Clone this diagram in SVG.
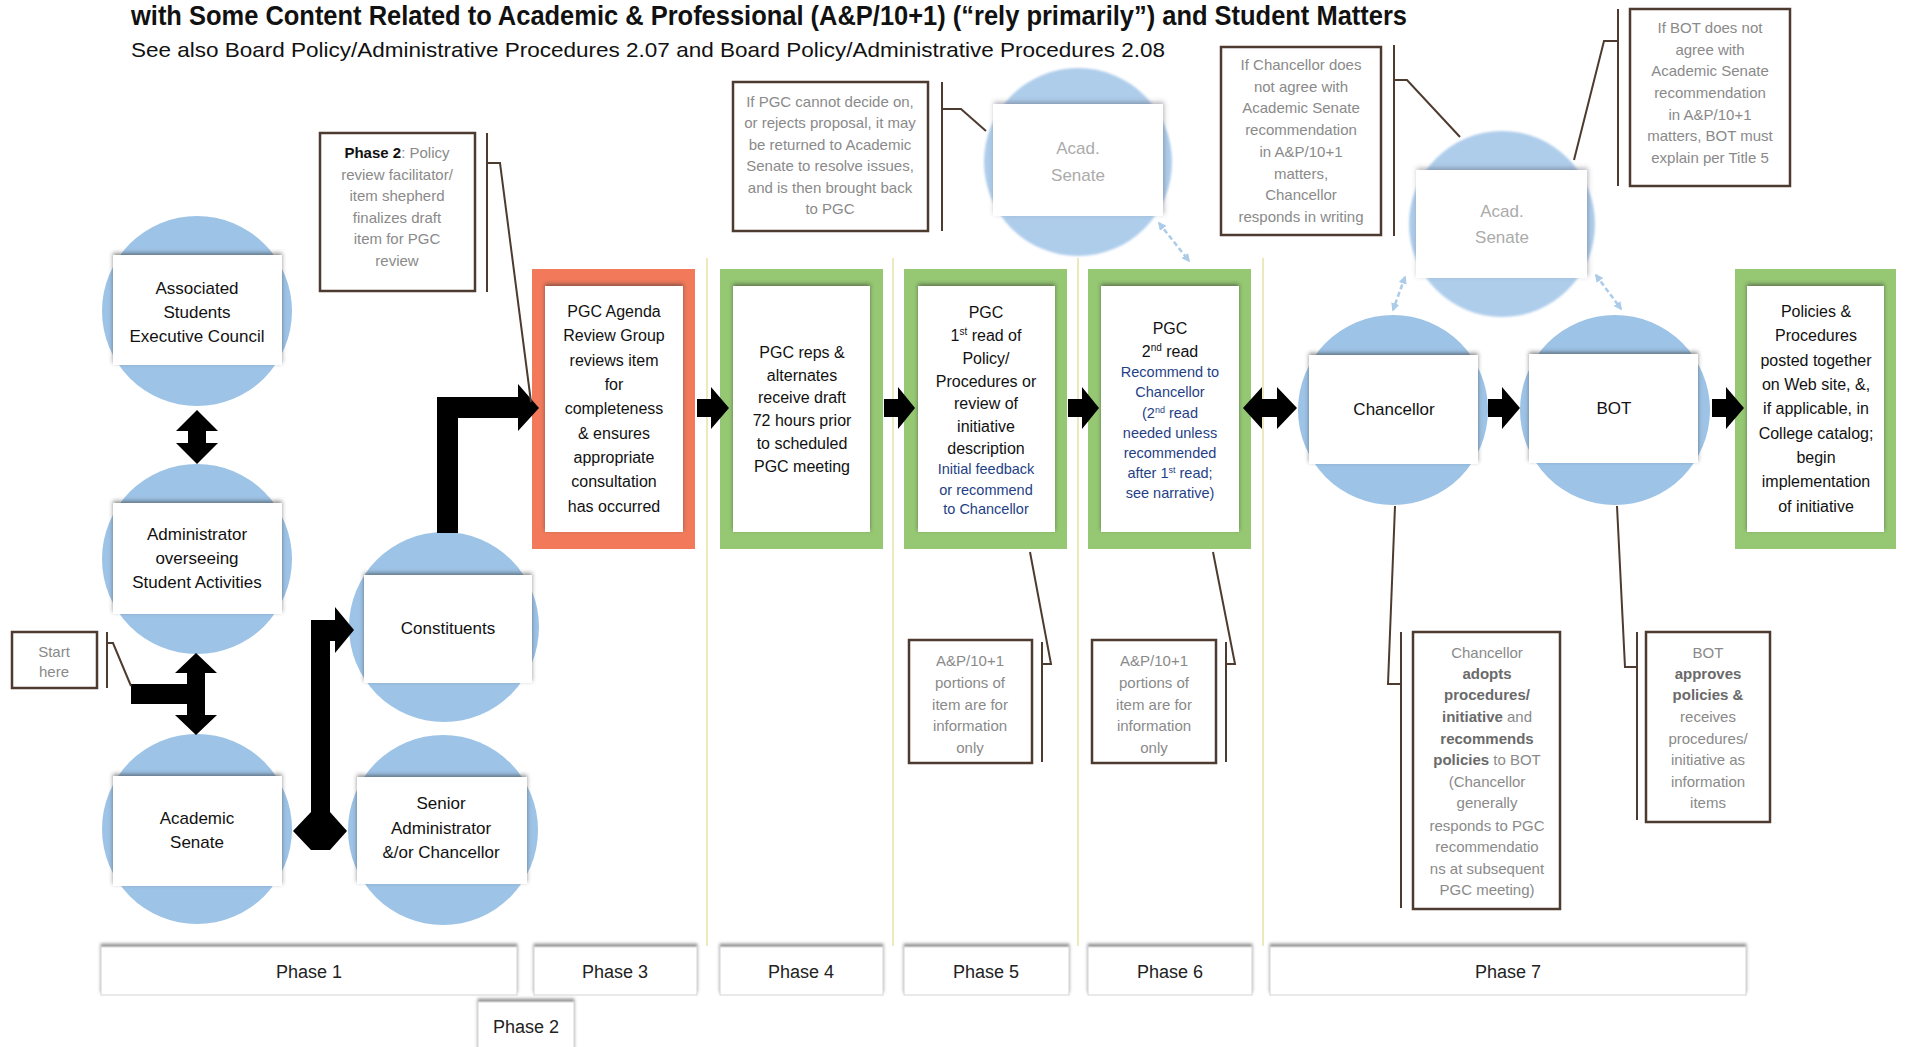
<svg xmlns="http://www.w3.org/2000/svg" width="1906" height="1047" viewBox="0 0 1906 1047">
<defs>
<style>
text{font-family:"Liberation Sans",Arial,sans-serif}
.n{font-size:17px;fill:#111;text-anchor:middle}
.b{font-size:16px;fill:#111;text-anchor:middle}
.bl{font-size:14.5px;fill:#1F3F86;text-anchor:middle}
.c{font-size:15px;fill:#8A8A8A;text-anchor:middle}
.cb{font-weight:bold;fill:#6A6A6A}
.ph{font-size:18px;fill:#222;text-anchor:middle}
.fa{font-size:17px;fill:#ABABAB;text-anchor:middle}
.circ{fill:#9DC3E6}
.fcirc{fill:#AECDEB;filter:url(#fade)}
.box{fill:#fff;filter:url(#sh)}
.fbox{fill:#fff;filter:url(#fsh)}
.cal{fill:#fff;stroke:#4E3B30;stroke-width:2.5}
.brk{fill:none;stroke:#4E3B30;stroke-width:2}
.arr{fill:#000}
.sep{stroke:#E6E2A6;stroke-width:1.5}
.grn{fill:#96C873}
.red{fill:#F27A5B}
.pbox{fill:#fff;stroke:#D4D4D4;stroke-width:1;filter:url(#psh)}
.faint{stroke:#9DC3E6;stroke-width:2.5;stroke-dasharray:5 3;opacity:0.85;marker-start:url(#fh);marker-end:url(#fh)}
</style>
<filter id="sh" x="-20%" y="-20%" width="140%" height="140%">
<feDropShadow dx="0" dy="-2" stdDeviation="2.2" flood-color="#333" flood-opacity="0.55"/>
</filter>
<filter id="fsh" x="-20%" y="-20%" width="140%" height="140%">
<feDropShadow dx="1" dy="-2" stdDeviation="2.5" flood-color="#556" flood-opacity="0.45"/>
</filter>
<filter id="psh" x="-10%" y="-30%" width="120%" height="160%">
<feDropShadow dx="0" dy="-3" stdDeviation="1.5" flood-color="#555" flood-opacity="0.6"/>
</filter>
<filter id="fade" x="-20%" y="-20%" width="140%" height="140%">
<feGaussianBlur stdDeviation="1.2"/>
</filter>
<marker id="fh" viewBox="0 0 10 10" refX="8" refY="5" markerWidth="3.4" markerHeight="3.4" orient="auto-start-reverse">
<path d="M0,0 L10,5 L0,10 z" fill="#9DC3E6"/>
</marker>
</defs>
<rect width="1906" height="1047" fill="#fff"/>

<text x="131" y="25" font-size="27" font-weight="bold" fill="#111" textLength="1276" lengthAdjust="spacingAndGlyphs">with Some Content Related to Academic &amp; Professional (A&amp;P/10+1) (“rely primarily”) and Student Matters</text>
<text x="131" y="57" font-size="21" fill="#111" textLength="1034" lengthAdjust="spacingAndGlyphs">See also Board Policy/Administrative Procedures 2.07 and Board Policy/Administrative Procedures 2.08</text>

<g id="separators">
<line class="sep" x1="707" y1="258" x2="707" y2="946"/>
<line class="sep" x1="893" y1="258" x2="893" y2="946"/>
<line class="sep" x1="1078" y1="258" x2="1078" y2="946"/>
<line class="sep" x1="1263" y1="258" x2="1263" y2="946"/>
</g>

<g id="asec">
<circle class="circ" cx="197" cy="311" r="95"/>
<rect class="box" x="113" y="255" width="169" height="110"/>
<text class="n" x="197" y="294">Associated</text>
<text class="n" x="197" y="318">Students</text>
<text class="n" x="197" y="342">Executive Council</text>
</g>
<g id="admin-student">
<circle class="circ" cx="197" cy="559" r="95"/>
<rect class="box" x="113" y="503" width="169" height="111"/>
<text class="n" x="197" y="540">Administrator</text>
<text class="n" x="197" y="564">overseeing</text>
<text class="n" x="197" y="588">Student Activities</text>
</g>
<g id="academic-senate">
<circle class="circ" cx="197" cy="829" r="95"/>
<rect class="box" x="113" y="776" width="169" height="110"/>
<text class="n" x="197" y="824">Academic</text>
<text class="n" x="197" y="848">Senate</text>
</g>
<g id="constituents">
<circle class="circ" cx="444" cy="627" r="95"/>
<rect class="box" x="364" y="575" width="168" height="108"/>
<text class="n" x="448" y="634">Constituents</text>
</g>
<g id="senior-admin">
<circle class="circ" cx="443" cy="830" r="95"/>
<rect class="box" x="357" y="777" width="170" height="107"/>
<text class="n" x="441" y="809">Senior</text>
<text class="n" x="441" y="834">Administrator</text>
<text class="n" x="441" y="858">&amp;/or Chancellor</text>
</g>

<g id="start-here">
<rect class="cal" x="12" y="632" width="85" height="56"/>
<text class="c" x="54" y="657">Start</text>
<text class="c" x="54" y="677">here</text>
</g>

<g id="phase2-note">
<rect class="cal" x="320" y="133" width="155" height="158"/>
<text class="c" x="397" y="158"><tspan font-weight="bold" style="fill:#111">Phase 2</tspan>: Policy</text>
<text class="c" x="397" y="180">review facilitator/</text>
<text class="c" x="397" y="201">item shepherd</text>
<text class="c" x="397" y="223">finalizes draft</text>
<text class="c" x="397" y="244">item for PGC</text>
<text class="c" x="397" y="266">review</text>
</g>

<g id="pgc-agenda">
<rect class="red" x="532" y="269" width="163" height="280"/>
<rect class="box" x="545" y="286" width="138" height="246"/>
<text class="b" x="614" y="317">PGC Agenda</text>
<text class="b" x="614" y="341">Review Group</text>
<text class="b" x="614" y="366">reviews item</text>
<text class="b" x="614" y="390">for</text>
<text class="b" x="614" y="414">completeness</text>
<text class="b" x="614" y="439">&amp; ensures</text>
<text class="b" x="614" y="463">appropriate</text>
<text class="b" x="614" y="487">consultation</text>
<text class="b" x="614" y="512">has occurred</text>
</g>

<g id="pgc-reps">
<rect class="grn" x="720" y="269" width="163" height="280"/>
<rect class="box" x="733" y="286" width="137" height="246"/>
<text class="b" x="802" y="358">PGC reps &amp;</text>
<text class="b" x="802" y="381">alternates</text>
<text class="b" x="802" y="403">receive draft</text>
<text class="b" x="802" y="426">72 hours prior</text>
<text class="b" x="802" y="449">to scheduled</text>
<text class="b" x="802" y="472">PGC meeting</text>
</g>

<g id="pgc-first-read">
<rect class="grn" x="904" y="269" width="163" height="280"/>
<rect class="box" x="918" y="286" width="137" height="246"/>
<text class="b" x="986" y="318">PGC</text>
<text class="b" x="986" y="341">1<tspan dy="-6" font-size="10">st</tspan><tspan dy="6"> read of</tspan></text>
<text class="b" x="986" y="364">Policy/</text>
<text class="b" x="986" y="387">Procedures or</text>
<text class="b" x="986" y="409">review of</text>
<text class="b" x="986" y="432">initiative</text>
<text class="b" x="986" y="454">description</text>
<text class="bl" x="986" y="474">Initial feedback</text>
<text class="bl" x="986" y="495">or recommend</text>
<text class="bl" x="986" y="514">to Chancellor</text>
</g>

<g id="pgc-second-read">
<rect class="grn" x="1088" y="269" width="163" height="280"/>
<rect class="box" x="1101" y="286" width="138" height="246"/>
<text class="b" x="1170" y="334">PGC</text>
<text class="b" x="1170" y="357">2<tspan dy="-6" font-size="10">nd</tspan><tspan dy="6"> read</tspan></text>
<text class="bl" x="1170" y="377">Recommend to</text>
<text class="bl" x="1170" y="397">Chancellor</text>
<text class="bl" x="1170" y="418">(2<tspan dy="-5" font-size="9">nd</tspan><tspan dy="5"> read</tspan></text>
<text class="bl" x="1170" y="438">needed unless</text>
<text class="bl" x="1170" y="458">recommended</text>
<text class="bl" x="1170" y="478">after 1<tspan dy="-5" font-size="9">st</tspan><tspan dy="5"> read;</tspan></text>
<text class="bl" x="1170" y="498">see narrative)</text>
</g>

<g id="acad-senate-return">
<circle class="fcirc" cx="1078" cy="162" r="94"/>
<rect class="fbox" x="993" y="104" width="170" height="112"/>
<text class="fa" x="1078" y="154">Acad.</text>
<text class="fa" x="1078" y="181">Senate</text>
</g>

<g id="pgc-note">
<rect class="cal" x="733" y="82" width="195" height="149"/>
<text class="c" x="830" y="107">If PGC cannot decide on,</text>
<text class="c" x="830" y="128">or rejects proposal, it may</text>
<text class="c" x="830" y="150">be returned to Academic</text>
<text class="c" x="830" y="171">Senate to resolve issues,</text>
<text class="c" x="830" y="193">and is then brought back</text>
<text class="c" x="830" y="214">to PGC</text>
</g>

<g id="acad-senate-consult">
<circle class="fcirc" cx="1502" cy="224" r="93"/>
<rect class="fbox" x="1416" y="170" width="171" height="108"/>
<text class="fa" x="1502" y="217">Acad.</text>
<text class="fa" x="1502" y="243">Senate</text>
</g>

<g id="chancellor">
<circle class="circ" cx="1393" cy="410" r="95"/>
<rect class="box" x="1309" y="355" width="169" height="109"/>
<text class="n" x="1394" y="415">Chancellor</text>
</g>
<g id="bot">
<circle class="circ" cx="1615" cy="410" r="95"/>
<rect class="box" x="1529" y="354" width="169" height="109"/>
<text class="n" x="1614" y="414">BOT</text>
</g>

<g id="posted">
<rect class="grn" x="1735" y="269" width="161" height="280"/>
<rect class="box" x="1747" y="286" width="137" height="246"/>
<text class="b" x="1816" y="317">Policies &amp;</text>
<text class="b" x="1816" y="341">Procedures</text>
<text class="b" x="1816" y="366">posted together</text>
<text class="b" x="1816" y="390">on Web site, &amp;,</text>
<text class="b" x="1816" y="414">if applicable, in</text>
<text class="b" x="1816" y="439">College catalog;</text>
<text class="b" x="1816" y="463">begin</text>
<text class="b" x="1816" y="487">implementation</text>
<text class="b" x="1816" y="512">of initiative</text>
</g>

<g id="chancellor-note">
<rect class="cal" x="1221" y="47" width="160" height="188"/>
<text class="c" x="1301" y="70">If Chancellor does</text>
<text class="c" x="1301" y="92">not agree with</text>
<text class="c" x="1301" y="113">Academic Senate</text>
<text class="c" x="1301" y="135">recommendation</text>
<text class="c" x="1301" y="157">in A&amp;P/10+1</text>
<text class="c" x="1301" y="179">matters,</text>
<text class="c" x="1301" y="200">Chancellor</text>
<text class="c" x="1301" y="222">responds in writing</text>
</g>

<g id="bot-note">
<rect class="cal" x="1630" y="9" width="160" height="177"/>
<text class="c" x="1710" y="33">If BOT does not</text>
<text class="c" x="1710" y="55">agree with</text>
<text class="c" x="1710" y="76">Academic Senate</text>
<text class="c" x="1710" y="98">recommendation</text>
<text class="c" x="1710" y="120">in A&amp;P/10+1</text>
<text class="c" x="1710" y="141">matters, BOT must</text>
<text class="c" x="1710" y="163">explain per Title 5</text>
</g>

<g id="ap-note-1">
<rect class="cal" x="909" y="640" width="123" height="123"/>
<text class="c" x="970" y="666">A&amp;P/10+1</text>
<text class="c" x="970" y="688">portions of</text>
<text class="c" x="970" y="710">item are for</text>
<text class="c" x="970" y="731">information</text>
<text class="c" x="970" y="753">only</text>
</g>
<g id="ap-note-2">
<rect class="cal" x="1092" y="640" width="124" height="123"/>
<text class="c" x="1154" y="666">A&amp;P/10+1</text>
<text class="c" x="1154" y="688">portions of</text>
<text class="c" x="1154" y="710">item are for</text>
<text class="c" x="1154" y="731">information</text>
<text class="c" x="1154" y="753">only</text>
</g>

<g id="chancellor-adopts-note">
<rect class="cal" x="1413" y="632" width="147" height="277"/>
<text class="c" x="1487" y="658" font-size="14.5">Chancellor</text>
<text class="c cb" x="1487" y="679" font-size="14.5">adopts</text>
<text class="c cb" x="1487" y="700" font-size="14.5">procedures/</text>
<text class="c" x="1487" y="722" font-size="14.5"><tspan class="cb">initiative</tspan> and</text>
<text class="c cb" x="1487" y="744" font-size="14.5">recommends</text>
<text class="c" x="1487" y="765" font-size="14.5"><tspan class="cb">policies</tspan> to BOT</text>
<text class="c" x="1487" y="787" font-size="14.5">(Chancellor</text>
<text class="c" x="1487" y="808" font-size="14.5">generally</text>
<text class="c" x="1487" y="831" font-size="14.5">responds to PGC</text>
<text class="c" x="1487" y="852" font-size="14.5">recommendatio</text>
<text class="c" x="1487" y="874" font-size="14.5">ns at subsequent</text>
<text class="c" x="1487" y="895" font-size="14.5">PGC meeting)</text>
</g>

<g id="bot-approves-note">
<rect class="cal" x="1646" y="632" width="124" height="190"/>
<text class="c" x="1708" y="658">BOT</text>
<text class="c cb" x="1708" y="679">approves</text>
<text class="c cb" x="1708" y="700">policies &amp;</text>
<text class="c" x="1708" y="722">receives</text>
<text class="c" x="1708" y="744">procedures/</text>
<text class="c" x="1708" y="765">initiative as</text>
<text class="c" x="1708" y="787">information</text>
<text class="c" x="1708" y="808">items</text>
</g>

<g id="phases">
<rect class="pbox" x="101" y="947" width="416" height="48"/>
<text class="ph" x="309" y="978">Phase 1</text>
<rect class="pbox" x="534" y="947" width="163" height="48"/>
<text class="ph" x="615" y="978">Phase 3</text>
<rect class="pbox" x="720" y="947" width="163" height="48"/>
<text class="ph" x="801" y="978">Phase 4</text>
<rect class="pbox" x="904" y="947" width="165" height="48"/>
<text class="ph" x="986" y="978">Phase 5</text>
<rect class="pbox" x="1088" y="947" width="164" height="48"/>
<text class="ph" x="1170" y="978">Phase 6</text>
<rect class="pbox" x="1270" y="947" width="476" height="48"/>
<text class="ph" x="1508" y="978">Phase 7</text>
<rect class="pbox" x="478" y="1002" width="96" height="52"/>
<text class="ph" x="526" y="1033">Phase 2</text>
</g>

<g id="connectors">
<polygon class="arr" points="197,410 218,431 206,431 206,443 218,443 197,464 176,443 188,443 188,431 176,431"/>
<polygon class="arr" points="196,653 217,673 205,673 205,715 217,715 196,735 175,715 187,715 187,673 175,673"/>
<rect class="arr" x="131" y="684" width="66" height="20"/>
<polygon class="arr" points="311,620 335,620 335,607 354,630 335,653 335,641 330,641 330,812 347,831 330,850 311,850 293,831 311,812"/>
<polygon class="arr" points="437,533 437,397 518,397 518,384 539,408 518,431 518,418 458,418 458,533"/>
<polygon class="arr" points="697,399 711,399 711,387 729,408 711,429 711,417 697,417"/>
<polygon class="arr" points="884,399 898,399 898,387 915,408 898,429 898,417 884,417"/>
<polygon class="arr" points="1068,399 1082,399 1082,387 1099,408 1082,429 1082,417 1068,417"/>
<polygon class="arr" points="1243,408 1262,387 1262,399 1277,399 1277,387 1297,408 1277,429 1277,417 1262,417 1262,429"/>
<polygon class="arr" points="1488,399 1502,399 1502,387 1520,408 1502,429 1502,417 1488,417"/>
<polygon class="arr" points="1712,399 1726,399 1726,387 1744,408 1726,429 1726,417 1712,417"/>
<line class="faint" x1="1159" y1="223" x2="1189" y2="261"/>
<line class="faint" x1="1405" y1="277" x2="1393" y2="310"/>
<line class="faint" x1="1596" y1="275" x2="1621" y2="309"/>
<line class="brk" x1="107" y1="632" x2="107" y2="688"/>
<polyline class="brk" points="107,643 113,643 131,686"/>
<line class="brk" x1="487" y1="133" x2="487" y2="292"/>
<polyline class="brk" points="487,163 500,163 531,402"/>
<line class="brk" x1="942" y1="82" x2="942" y2="231"/>
<polyline class="brk" points="942,109 961,109 986,131"/>
<line class="brk" x1="1394" y1="45" x2="1394" y2="236"/>
<polyline class="brk" points="1394,80 1407,80 1460,137"/>
<line class="brk" x1="1618" y1="9" x2="1618" y2="186"/>
<polyline class="brk" points="1618,41 1604,41 1574,160"/>
<line class="brk" x1="1042" y1="642" x2="1042" y2="762"/>
<polyline class="brk" points="1042,664 1051,664 1030,552"/>
<line class="brk" x1="1226" y1="642" x2="1226" y2="762"/>
<polyline class="brk" points="1226,664 1235,664 1213,552"/>
<line class="brk" x1="1401" y1="632" x2="1401" y2="908"/>
<polyline class="brk" points="1401,684 1388,684 1395,506"/>
<line class="brk" x1="1637" y1="632" x2="1637" y2="820"/>
<polyline class="brk" points="1637,667 1625,667 1617,506"/>
</g>
</svg>
